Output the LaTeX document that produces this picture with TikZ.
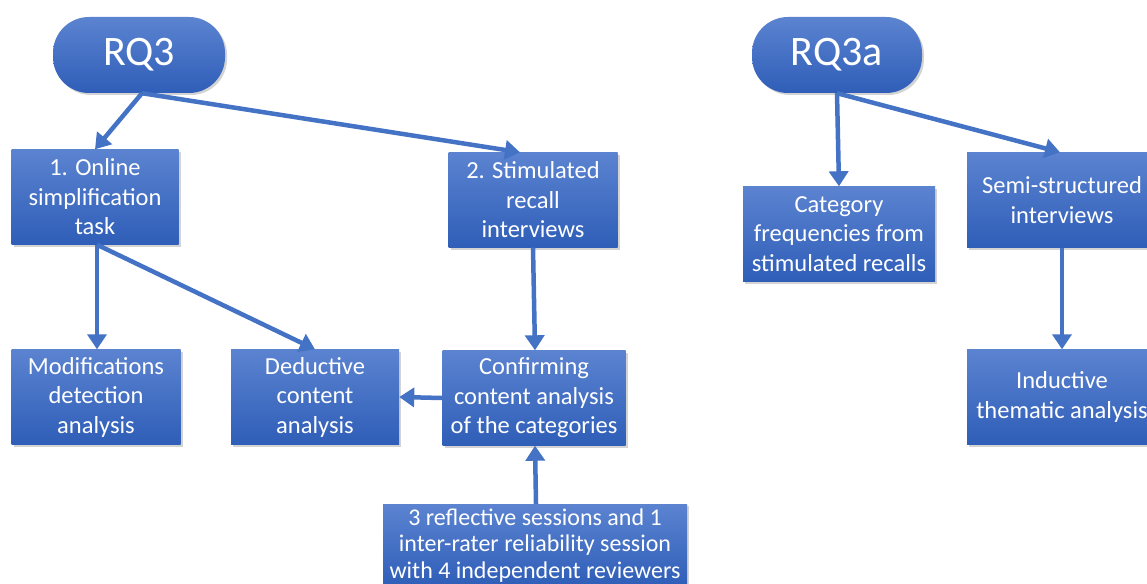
\documentclass[tikz,border=0pt]{standalone}
\usepackage{fontspec}
\setmainfont{Carlito}
\usetikzlibrary{arrows.meta,shadows}

\definecolor{boxtop}{HTML}{5B83D0}
\definecolor{boxbot}{HTML}{2F5EB8}
\definecolor{arrowblue}{HTML}{4472C4}

\tikzset{
  stepbox/.style={rectangle, top color=boxtop, bottom color=boxbot, draw=none,
    text=white, align=center, font=\fontsize{24.5}{29.5}\selectfont,
    minimum height=95pt, inner sep=2pt,
    drop shadow={opacity=0.35, shadow xshift=2pt, shadow yshift=-2pt}},
  rqbox/.style={rectangle, rounded corners=36pt, top color=boxtop, bottom color=boxbot,
    draw=none, text=white, font=\fontsize{42}{50}\selectfont,
    minimum width=172pt, minimum height=76pt,
    drop shadow={opacity=0.35, shadow xshift=2pt, shadow yshift=-2pt}},
  link/.style={draw=arrowblue, line width=4.5pt, -{Triangle[width=19pt,length=15pt]}}
}

\begin{document}
\begin{tikzpicture}[x=1pt,y=-1pt]
\useasboundingbox (0,0) rectangle (1147,583);
\clip (0,0) rectangle (1147,583);

% RQ3 side
\node[rqbox] (rq3) at (139,55) {RQ3};
\node[stepbox, minimum width=167pt] (online) at (95,197) {1. Online\\simplification\\task};
\node[stepbox, minimum width=169pt] (recall) at (533,200) {2. Stimulated\\recall\\interviews};
\node[stepbox, minimum width=169pt] (modif) at (96,397) {Modifications\\detection\\analysis};
\node[stepbox, minimum width=168pt] (deduct) at (315,397) {Deductive\\content\\analysis};
\node[stepbox, minimum width=183pt] (confirm) at (534,398) {Confirming\\content analysis\\of the categories};
\node[stepbox, minimum width=304pt, minimum height=82pt, font=\fontsize{24}{26.5}\selectfont,
  anchor=north] (reflect) at (535,504) {3 reflective sessions and 1\\inter-rater reliability session\\with 4 independent reviewers};

% RQ3a side
\node[rqbox, minimum width=170pt] (rq3a) at (837,55) {RQ3a};
\node[stepbox, minimum width=192pt] (freq) at (839,234) {Category\\frequencies from\\stimulated recalls};
\node[stepbox, minimum width=190pt] (semi) at (1062,200) {Semi-structured\\interviews};
\node[stepbox, minimum width=190pt] (induct) at (1062,397) {Inductive\\thematic analysis};

% arrows
\draw[link] ([xshift=3pt]rq3.south) -- (online.north);
\draw[link] ([xshift=3pt]rq3.south) -- ([xshift=-13pt]recall.north);
\draw[link] ([xshift=2pt]online.south) -- ([xshift=1pt]modif.north);
\draw[link] ([xshift=2pt]online.south) -- (deduct.north);
\draw[link] (recall.south) -- ([xshift=1pt]confirm.north);
\draw[link] (confirm.west) -- (deduct.east);
\draw[link] ([xshift=1pt]reflect.north) -- ([xshift=1pt]confirm.south);
\draw[link] (rq3a.south) -- (freq.north);
\draw[link] (rq3a.south) -- ([xshift=-2pt]semi.north);
\draw[link] (semi.south) -- (induct.north);
\end{tikzpicture}
\end{document}
